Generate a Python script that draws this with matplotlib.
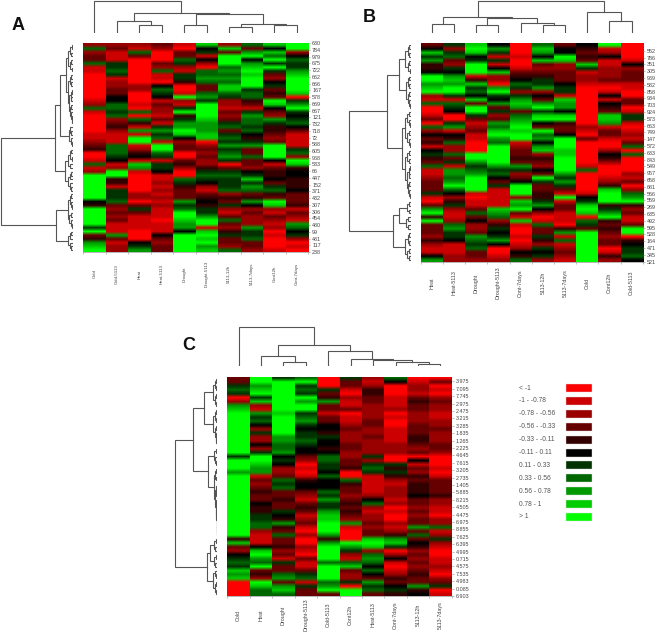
import numpy as np
import matplotlib
matplotlib.use('Agg')
import matplotlib.pyplot as plt
from matplotlib.colors import ListedColormap
from matplotlib.patches import Rectangle

plt.rcParams['font.family'] = ['Liberation Sans', 'DejaVu Sans']

W, H = 658, 632
LINE = '#555555'
TXT = '#444444'

# legend classes, one colour per level of the heatmaps (0 = red ... a = green)
legend_labels = ['< -1', '-1 - -0.78', '-0.78 - -0.56', '-0.56 - -0.33', '-0.33 - -0.11', '-0.11 - 0.11',
                 '0.11 - 0.33', '0.33 - 0.56', '0.56 - 0.78', '0.78 - 1', '> 1']
legend_colors = ['#FF0000', '#CC0000', '#990000', '#660000', '#330000', '#000000',
                 '#003300', '#006600', '#009900', '#00CC00', '#00FF00']
cmap = ListedColormap(legend_colors)

# panel A
a_columns = ['Cold', 'Cold-5113', 'Heat', 'Heat-5113', 'Drought', 'Drought-5113', '5113-12h', '5113-7days', 'Cont12h', 'Cont-7days']
a_rows = ['630', '784', '979', '675', '722', '662', '666', '167', '578', '669', '667', '121', '732', '718', '72', '588',
          '605', '968', '533', '66', '447', '152', '371', '432', '307', '306', '454', '480', '99', '481', '117', '238']
a_levels = [
    '27233711' '0000000' '1271' '00000' '11234' '001712' 'aaaaaaa' '54' 'aaaaa' '6a3489a',
    '23111667612233557767234211177' '76512aa44166673232311183122',
    '2173' '0000000' '22' '000' '10' '707' '41' '81' 'aa' '12' '451981' '00000' '22' '0' '363' '1111' '000' '568',
    '320003271105765132213168671aa' '761665112121212111011153233',
    '1033762166' '4001a216a4' '688a95233' '0034200764' '333867aa98' '85aaaaa',
    '9561520778' '733786aaaa' '988899023' '2322467652' '13454668aa' '19a9a89',
    '293aaa7878' '7997622132' '367367686' '7860367666' '7243621373' '2463327',
    '738a589a9a' 'aa67743168' '776754683' '3733256968' '7348523222' '8667332',
    '9597a6a632' '56343a9532' '8644323aa' 'aa51344536' '743a921321' '2010001',
    'aa2576689a' 'aaa9068a65' '675311116' '72a9455444' '5333413218' '7562010',
]
a_col_tree = (96, 0, (62, (38, 1, (26, 2, 3)), (58, (24, 4, 5), (28, (20, 6, 7), (25, 8, 9)))))
a_row_tree = (215,
    (52, (37,
        (20, (13, (7, (3, 0, 1), (4, 2, 3)), (8, (4, 4, 5), (3, 6, 7))),
             (14, (9, (4, 8, 9), (5, 10, 11)), (10, (6, (3, 12, 13), (4, 14, 15)), (7, (4, 16, 17), (5, 18, (3, 19, (2, 20, 21))))))),
        (12, (7, 22, (4, 23, 24)), (6, 25, (3, 26, 27)))),
        (23, (14, (7, (4, 28, 29), (3, 30, 31)), (8, 32, 33)), (15, (7, (4, 34, 35), 36), (9, 37, (5, 38, 39))))),
    (50, (15, (9, (5, 40, 41), (6, 42, (3, 43, 44))), (10, (6, 45, 46), (5, 47, (3, 48, 49)))),
         (15, (9, (5, 50, 51), 52), (8, 53, (4, 54, 55)))))

# panel B
b_columns = ['Heat', 'Heat-5113', 'Drought', 'Drought-5113', 'Cont-7days', '5113-12h', '5113-7days', 'Cold', 'Cont12h', 'Cold-5113']
b_rows = ['552', '786', '351', '305', '969', '582', '858', '934', '703', '924', '573', '663', '749', '147', '572', '633',
          '843', '549', '957', '658', '681', '566', '559', '269', '635', '492', '595', '528', '164', '471', '345', '521']
b_levels = [
    '35968445aa' '89a2170013' '07253415' '6437112333' '61038a4a33' '32421158',
    '6267326589' '8aa6176500' '68154722' '73618878a7' '5246211278' '66511122',
    '9a956aaa14' '967593aa63' '12311000' 'aa8678aaaa' '1011373522' '38767332',
    '5861615922' '08a6583623' '879a87aa' 'aaa8675361' '1111987246' '56850012',
    '0001001345' '7626898378' '9a9aa123' '34386235aa' 'a298a31910' '01012547',
    '7985932346' '682538a69a' '53a78589' '243253a633' '4468520173' '36426562',
    '355a922333' '566198859a' '4335aaa9' '9aaaa86863' '1a13311104' '81712321',
    '5434396122' '1000000000' '02103000' '0001700000' '1569a90763' 'aaaaaaaa',
    'a125112223' '1015154399' '81331002' '5420001249' 'aaa468a434' '32330142',
    '0000152333' '1100330166' '10121370' '7000021302' '78a423113a' 'a0456675',
]
b_col_tree = (96, (48, (28, 0, 1), (45, (25, 2, 3), (32, 4, (24, 5, 6)))), (63, 7, (36, 8, 9)))
b_row_tree = (185,
    (70,
     (35, (16, (9, (5, 0, 1), (4, 2, 3)), (7, (4, 4, 5), (3, 6, 7))),
          (15, (8, (4, 8, 9), (5, 10, 11)), (9, (4, 12, 13), (5, 14, (3, 15, 16))))),
     (26, (17, (10, (5, 17, 18), (6, 19, (3, 20, 21))), (11, (6, 22, 23), (5, 24, (3, 25, 26)))),
          (18, (10, (5, 27, 28), (6, 29, 30)), (12, (6, (3, 31, 32), (4, 33, 34)), (7, (4, 35, 36), (5, 37, (3, 38, 39))))))),
    (52,
     (35, (12, (6, 40, 41), (5, 42, 43)), (14, (7, 44, 45), (8, 46, 47))),
     (17, (9, (5, 48, 49), (4, 50, 51)), (10, (5, 52, 53), (4, 54, 55)))))

# panel C
c_columns = ['Cold', 'Heat', 'Drought', 'Drought-5113', 'Cold-5113', 'Cont12h', 'Heat-5113', 'Cont-7days', '5113-12h', '5113-7days']
c_rows = ['3.975', '7.095', '7.745', '2.975', '2.475', '3.215', '3.285', '1.835', '1.265', '2.225', '4.645', '7.615',
          '3.205', '2.735', '1.405', '5.885', '8.215', '4.505', '4.475', '6.975', '8.855', '7.625', '6.395', '4.995',
          '0.715', '4.575', '7.535', '4.983', '0.085', '6.903']
c_levels = [
    '336760289' 'aaaaaaaaaaa' '6' 'aaa' '8' 'aaaaaaaaaaaaaaaa' '49325676989' '0000',
    'aa89a69218' '6752622526' 'aa988132' '3433544667' '7211159a87' 'a342a977',
    '6' 'aaaaaaaa' '9' 'aaaaa' '88778' '565' '22' '376' '7334336548' '4373342316' '33783897',
    '7a676a8aa6' '7865667655' '32010145' '5321343123' '1020021031' '13671633',
    '0006348331' '3355465545' '77665755' '576866899a' 'aa848aaaa7' 'aaaa78a3',
    '6331021130' '1123222332' '23340074' '3323434328' '1000a86217' '932260aa',
    '2124433222' '2332232222' '62676111' '1125721223' '2339a92787' '57538673',
    '7500011120' '1001111222' '00646421' '2221201002' '1248960251' '01243564',
    '0122134332' '2233344323' '05132434' '4453323233' '8373542323' '23433845',
    '0301023221' '1223222332' '00010133' '3342211022' '7126210011' '21023601',
]
c_col_tree = (118, 0, (63, (31, 1, (12, 2, 3)), (44, 4, (20, 5, (17, 6, (13, 7, (6, 8, 9)))))))
c_row_tree = (127,
    (72,
     (40, (14, (8, (4, 0, 1), (5, 2, 3)), (7, (4, 4, 5), (3, 6, 7))),
          (12, (7, (3, 8, 9), (4, 10, 11)), (8, (4, 12, 13), (5, 14, (3, 15, (2, 16, 17)))))),
     (27, (9, (5, 18, 19), (6, 20, (3, 21, 22))),
          (10, (6, (3, 23, 24), (4, 25, 26)), (8, (4, (2, 27, 28), (3, 29, 30)), (5, (3, 31, 32), (4, 33, (3, 34, (2, 35, (1, 36, (1, 37, (1, 38, (1, 39, 40)))))))))))),
    (32,
     (22, (10, (5, 41, 42), (6, 43, 44)), (11, (5, 45, 46), (6, 47, 48))),
     (14, (8, 49, (4, 50, 51)), (7, (4, 52, 53), (3, 54, 55)))))


def px_axes(fig, x0, y0, x1, y1):
    # axes from pixel box, y counted from the top
    return fig.add_axes([x0 / W, 1 - y1 / H, (x1 - x0) / W, (y1 - y0) / H])


def draw_tree(ax, node, across):
    if isinstance(node, int):
        return node + 0.5, 0
    h, left, right = node
    p1, h1 = draw_tree(ax, left, across)
    p2, h2 = draw_tree(ax, right, across)
    pos = [p1, p1, p2, p2]
    hgt = [h1, h, h, h2]
    if across:
        ax.plot(pos, hgt, color=LINE, lw=0.8, solid_joinstyle='miter')
    else:
        ax.plot(hgt, pos, color=LINE, lw=0.8, solid_joinstyle='miter')
    return (p1 + p2) / 2, h


def panel(fig, box, levels, col_tree, row_tree, rows, row_pos, col_base, row_tip, fs):
    x0, y0, x1, y1 = box
    ax = px_axes(fig, x0, y0, x1, y1)
    n = max(len(c) for c in levels)
    for j, col in enumerate(levels):
        vals = np.array([[int(ch, 16)] for ch in col])
        # the source scan is soft, so blend the stripes a little in colour space
        ax.imshow(vals, cmap=cmap, vmin=-0.5, vmax=10.5, aspect='auto', interpolation='bilinear',
                  interpolation_stage='rgba', extent=[j, j + 1, len(col), 0])
    ax.set_xlim(0, len(levels))
    ax.set_ylim(n, 0)
    ax.set_xticks(range(len(levels) + 1))
    ax.set_xticklabels([])
    ax.yaxis.tick_right()
    ax.set_yticks(np.linspace(row_pos[0], row_pos[1], len(rows)))
    ax.set_yticklabels(rows, fontsize=fs, color=TXT)
    ax.tick_params(axis='both', length=1.5, width=0.4, color='#888888', pad=1.5)
    for s in ['top', 'left', 'right']:
        ax.spines[s].set_visible(False)
    ax.spines['bottom'].set_color('#999999')
    ax.spines['bottom'].set_linewidth(0.5)

    # column dendrogram sits on col_base, heights in thirds of a pixel
    top_h = col_tree[0] + 3
    dc = px_axes(fig, x0, col_base - top_h / 3, x1, col_base)
    draw_tree(dc, col_tree, True)
    dc.set_xlim(0, len(levels))
    dc.set_ylim(0, top_h)
    dc.axis('off')

    # row dendrogram ends at row_tip
    left_h = row_tree[0] + 3
    dr = px_axes(fig, row_tip - left_h / 3, y0, row_tip, y1)
    draw_tree(dr, row_tree, False)
    dr.set_xlim(left_h, 0)
    dr.set_ylim(n, 0)
    dr.axis('off')


fig = plt.figure(figsize=(W / 100, H / 100), dpi=100)

a_box = (83, 43.3, 308, 252)
b_box = (420.7, 43.3, 642.7, 262.3)
c_box = (227.3, 376.7, 451.7, 596)

panel(fig, a_box, a_levels, a_col_tree, a_row_tree, a_rows, (0, 56), 33.3, 72.7, 3.9)
panel(fig, b_box, b_levels, b_col_tree, b_row_tree, b_rows, (1.9, 55.8), 33.3, 410.7, 3.9)
panel(fig, c_box, c_levels, c_col_tree, c_row_tree, c_rows, (1.2, 56), 366, 217.3, 3.9)

# everything placed in plain pixels: panel letters, column names, legend
over = fig.add_axes([0, 0, 1, 1])
over.set_xlim(0, W)
over.set_ylim(H, 0)
over.axis('off')
over.patch.set_alpha(0)

for letter, lx, ly in [('A', 18, 25), ('B', 369, 18), ('C', 189, 345)]:
    over.text(lx, ly, letter, fontsize=13, fontweight='bold', color='#111111', ha='center', va='center')

for box, names, cy, fs in [(a_box, a_columns, 274, 3.2), (b_box, b_columns, 283, 3.9), (c_box, c_columns, 615, 3.9)]:
    step = (box[2] - box[0]) / len(names)
    for j, name in enumerate(names):
        over.text(box[0] + (j + 0.5) * step, cy, name, rotation=90, fontsize=fs, color=TXT, ha='center', va='center')

for i, (lab, col) in enumerate(zip(legend_labels, legend_colors)):
    y = 388 + i * 12.9
    over.text(519, y, lab, fontsize=4.8, color='#555555', ha='left', va='center')
    over.add_patch(Rectangle((566, y - 4), 26, 8, facecolor=col, edgecolor='#dddddd', lw=0.3))

fig.savefig('out.png', dpi=100)
